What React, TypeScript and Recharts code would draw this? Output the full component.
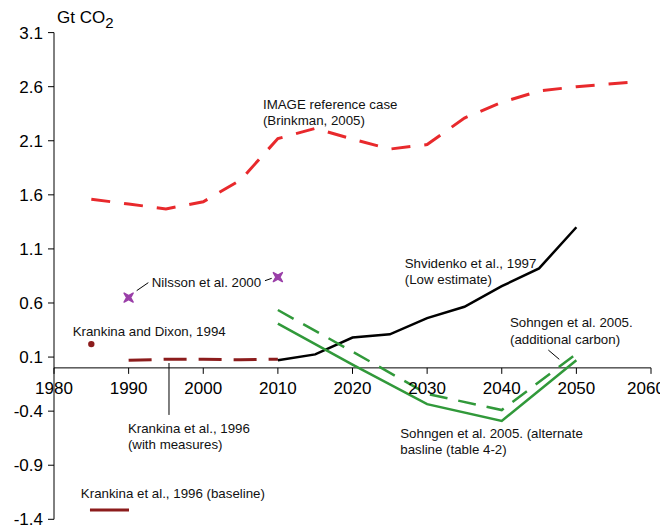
import { ComposedChart, Line, XAxis, YAxis, ReferenceLine, ReferenceDot } from 'recharts';

const FONT = '"Liberation Sans", Arial, sans-serif';
const CHART_W = 660;

// axis ticks
const yTicks = [3.1, 2.6, 2.1, 1.6, 1.1, 0.6, 0.1, -0.4, -0.9, -1.4];
const xTicks = [1980, 1990, 2000, 2010, 2020, 2030, 2040, 2050, 2060];

// IMAGE reference case (Brinkman, 2005)
const imageYears = [1985, 1990, 1995, 2000, 2005, 2010, 2015, 2020, 2025, 2030, 2035, 2040, 2045, 2050, 2057];
const imageValues = [1.56, 1.515, 1.47, 1.536, 1.737, 2.12, 2.214, 2.115, 2.023, 2.065, 2.31, 2.455, 2.56, 2.6, 2.64];

// Krankina et al., 1996 (with measures)
const measuresYears = [1990, 1995, 2000, 2005, 2010];
const measuresValues = [0.07, 0.08, 0.08, 0.075, 0.08];

// Shvidenko et al., 1997 (Low estimate)
const shvidenkoYears = [2010, 2015, 2020, 2025, 2030, 2035, 2040, 2045, 2050];
const shvidenkoValues = [0.07, 0.125, 0.28, 0.31, 0.46, 0.565, 0.755, 0.92, 1.3];

// Sohngen et al. 2005
const sohngenYears = [2010, 2020, 2030, 2040, 2050];
const alternateValues = [0.41, 0.03, -0.335, -0.49, 0.07];
const additionalValues = [0.535, 0.15, -0.24, -0.39, 0.13];

// single estimates
const dixonYears = [1985];
const dixonValues = [0.22];
const nilssonYears = [1990, 2010];
const nilssonValues = [0.65, 0.84];

const toRows = (years: number[], values: number[]) =>
    years.map((year, i) => ({ year, value: values[i] }));

const RED = '#e8292c';
const DARK_RED = '#8c1c1c';
const GREEN = '#31993a';
const PURPLE = '#9a3fa8';

// text notes, placed in data coordinates
const notes = [
    { year: 2008.0, value: 2.44, lines: ['IMAGE reference case', '(Brinkman, 2005)'] },
    { year: 2027.0, value: 0.97, lines: ['Shvidenko et al., 1997', '(Low estimate)'] },
    { year: 2041.1, value: 0.424, lines: ['Sohngen et al. 2005.', '(additional carbon)'] },
    { year: 1993.1, value: 0.797, lines: ['Nilsson et al. 2000'] },
    { year: 1982.5, value: 0.341, lines: ['Krankina and Dixon, 1994'] },
    { year: 1989.9, value: -0.555, lines: ['Krankina et al., 1996', '(with measures)'] },
    { year: 2026.4, value: -0.6, lines: ['Sohngen et al. 2005. (alternate', 'basline (table 4-2)'] },
    { year: 1983.6, value: -1.159, lines: ['Krankina et al., 1996 (baseline)'] },
];

// leader lines
const leaders = [
    [[1991.08, 0.714], [1992.64, 0.788]],
    [[2008.27, 0.806], [2009.17, 0.828]],
    [[2046.24, 0.165], [2047.71, 0.079]],
    [[1995.41, 0.045], [1995.41, -0.435]],
];

// eslint-disable-next-line @typescript-eslint/no-explicit-any
const noteShape = (lines: string[]) => (props: any) => (
    <text
        x={props.cx}
        y={props.cy}
        fontFamily={FONT}
        fontSize={13.3}
        fill="#111"
        dominantBaseline="central"
    >
        {lines.map((line, i) => (
            <tspan key={i} x={props.cx} dy={i === 0 ? 0 : 16.5}>
                {line}
            </tspan>
        ))}
    </text>
);

// tick mark below the zero line plus its label; the last label is kept inside the picture
// eslint-disable-next-line @typescript-eslint/no-explicit-any
const xTickShape = (label: number) => (props: any) => (
    <g>
        <line x1={props.cx} y1={props.cy} x2={props.cx} y2={props.cy + 6} stroke="#000" strokeWidth={1} />
        <text
            x={Math.min(props.cx, CHART_W - 22)}
            y={props.cy + 21}
            textAnchor="middle"
            dominantBaseline="central"
            fontFamily={FONT}
            fontSize={17}
            fill="#000"
        >
            {label}
        </text>
    </g>
);

// eslint-disable-next-line @typescript-eslint/no-explicit-any
const titleShape = (props: any) => (
    <text x={props.cx} y={props.cy} dominantBaseline="central" fontFamily={FONT} fontSize={17} fill="#000">
        Gt CO
        <tspan fontSize={15} dy={5}>2</tspan>
    </text>
);

// eslint-disable-next-line @typescript-eslint/no-explicit-any
const DixonDot = (props: any) => <circle cx={props.cx} cy={props.cy} r={3.2} fill={DARK_RED} />;

// eslint-disable-next-line @typescript-eslint/no-explicit-any
const NilssonMark = (props: any) => {
    const { cx, cy } = props;
    return (
        <path
            d={`M${cx - 4.5},${cy - 4.5} L${cx},${cy - 2} L${cx + 4.5},${cy - 4.5} L${cx + 2},${cy} L${cx + 4.5},${cy + 4.5} L${cx},${cy + 2} L${cx - 4.5},${cy + 4.5} L${cx - 2},${cy} Z`}
            fill={PURPLE}
            stroke={PURPLE}
            strokeWidth={1.5}
            strokeLinejoin="round"
        />
    );
};

export default function App() {
    return (
        <ComposedChart width={CHART_W} height={519} margin={{ top: 24.6, right: 17, bottom: 7.7, left: 0 }}>
            <XAxis type="number" dataKey="year" domain={[1980, 2060]} hide />
            <YAxis
                type="number"
                domain={[-1.4, 3.1]}
                ticks={yTicks}
                interval={0}
                width={46}
                tickSize={6}
                tickMargin={5}
                tickFormatter={(v: number) => v.toFixed(1)}
                axisLine={{ stroke: '#000' }}
                tickLine={{ stroke: '#000' }}
                tick={{ fontSize: 17, fontFamily: FONT, fill: '#000' }}
            />

            <ReferenceLine y={0} stroke="#000" strokeWidth={1} />
            {xTicks.map((year) => (
                <ReferenceDot key={year} x={year} y={0} r={1} shape={xTickShape(year)} ifOverflow="visible" />
            ))}
            <ReferenceDot x={1980.4} y={3.243} r={1} shape={titleShape} ifOverflow="visible" />

            <Line
                data={toRows(imageYears, imageValues)}
                dataKey="value"
                type="linear"
                stroke={RED}
                strokeWidth={3}
                strokeDasharray="19 14"
                dot={false}
                activeDot={false}
                isAnimationActive={false}
            />
            <Line
                data={toRows(measuresYears, measuresValues)}
                dataKey="value"
                type="linear"
                stroke={DARK_RED}
                strokeWidth={3}
                strokeDasharray="23 12"
                dot={false}
                activeDot={false}
                isAnimationActive={false}
            />
            <Line
                data={toRows(shvidenkoYears, shvidenkoValues)}
                dataKey="value"
                type="linear"
                stroke="#000"
                strokeWidth={2.5}
                dot={false}
                activeDot={false}
                isAnimationActive={false}
            />
            <Line
                data={toRows(sohngenYears, alternateValues)}
                dataKey="value"
                type="linear"
                stroke={GREEN}
                strokeWidth={2.5}
                dot={false}
                activeDot={false}
                isAnimationActive={false}
            />
            <Line
                data={toRows(sohngenYears, additionalValues)}
                dataKey="value"
                type="linear"
                stroke={GREEN}
                strokeWidth={2.5}
                strokeDasharray="18 11"
                dot={false}
                activeDot={false}
                isAnimationActive={false}
            />
            <Line
                data={toRows(dixonYears, dixonValues)}
                dataKey="value"
                stroke="none"
                dot={<DixonDot />}
                activeDot={false}
                isAnimationActive={false}
            />
            <Line
                data={toRows(nilssonYears, nilssonValues)}
                dataKey="value"
                stroke="none"
                dot={<NilssonMark />}
                activeDot={false}
                isAnimationActive={false}
            />

            {leaders.map(([a, b], i) => (
                <ReferenceLine
                    key={`leader-${i}`}
                    segment={[{ x: a[0], y: a[1] }, { x: b[0], y: b[1] }]}
                    stroke="#000"
                    strokeWidth={1}
                />
            ))}

            {/* baseline legend sample */}
            <ReferenceLine
                segment={[{ x: 1984.82, y: -1.313 }, { x: 1990.05, y: -1.313 }]}
                stroke={DARK_RED}
                strokeWidth={3}
            />

            {notes.map((n, i) => (
                <ReferenceDot
                    key={`note-${i}`}
                    x={n.year}
                    y={n.value}
                    r={1}
                    shape={noteShape(n.lines)}
                    ifOverflow="visible"
                />
            ))}
        </ComposedChart>
    );
}
